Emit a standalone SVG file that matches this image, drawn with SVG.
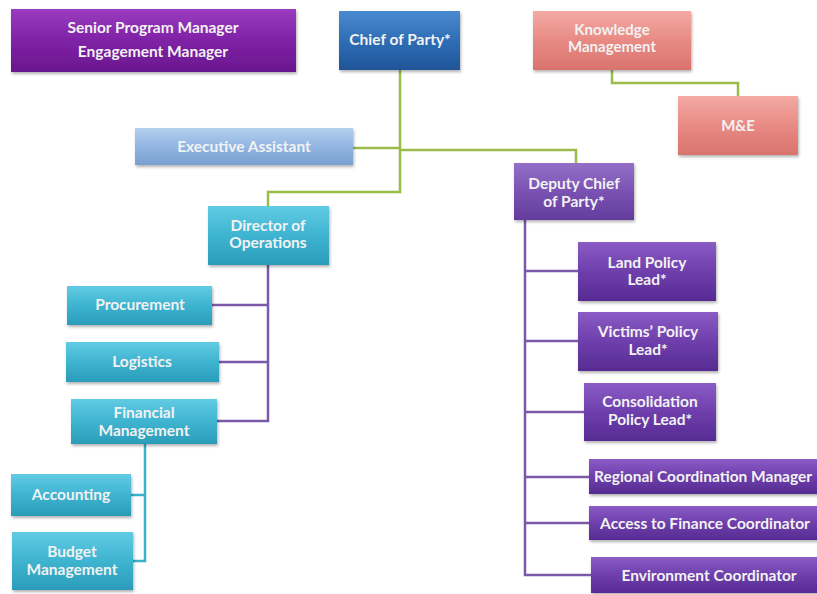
<svg xmlns="http://www.w3.org/2000/svg" width="817" height="594" viewBox="0 0 817 594">
<defs>
<linearGradient id="gSen" x1="0" y1="0" x2="0" y2="1"><stop offset="0" stop-color="#9a3cc0"/><stop offset="0.5" stop-color="#7f22a6"/><stop offset="1" stop-color="#6a168e"/></linearGradient>
<linearGradient id="gBlue" x1="0" y1="0" x2="0" y2="1"><stop offset="0" stop-color="#4a8ad0"/><stop offset="0.5" stop-color="#2f6db5"/><stop offset="1" stop-color="#1f5597"/></linearGradient>
<linearGradient id="gSal" x1="0" y1="0" x2="0" y2="1"><stop offset="0" stop-color="#f4aaa4"/><stop offset="0.5" stop-color="#e88a84"/><stop offset="1" stop-color="#d9736d"/></linearGradient>
<linearGradient id="gLb" x1="0" y1="0" x2="0" y2="1"><stop offset="0" stop-color="#b3cfee"/><stop offset="0.5" stop-color="#92b6e2"/><stop offset="1" stop-color="#789fd0"/></linearGradient>
<linearGradient id="gDep" x1="0" y1="0" x2="0" y2="1"><stop offset="0" stop-color="#9470c8"/><stop offset="0.5" stop-color="#7a52b2"/><stop offset="1" stop-color="#643c9c"/></linearGradient>
<linearGradient id="gTeal" x1="0" y1="0" x2="0" y2="1"><stop offset="0" stop-color="#62cbe4"/><stop offset="0.5" stop-color="#3eb4d0"/><stop offset="1" stop-color="#2a9cb9"/></linearGradient>
<linearGradient id="gPur" x1="0" y1="0" x2="0" y2="1"><stop offset="0" stop-color="#8a5cc4"/><stop offset="0.5" stop-color="#6e3fac"/><stop offset="1" stop-color="#572b92"/></linearGradient>
<filter id="sh" x="-10%" y="-10%" width="125%" height="135%"><feDropShadow dx="1" dy="2" stdDeviation="1.5" flood-color="#000" flood-opacity="0.3"/></filter>
</defs>
<style>
.box{filter:url(#sh);}
.t{font-family:Lato,"Open Sans","Liberation Sans",sans-serif;font-weight:bold;font-size:15.5px;fill:#f2f2f2;text-anchor:middle;}
.ts{font-size:15px;}
.g{fill:none;stroke:#9bbb4a;stroke-width:2.5;}
.p{fill:none;stroke:#7b5aaa;stroke-width:2.5;}
.c{fill:none;stroke:#3ab0cc;stroke-width:2.5;}
</style>
<rect width="817" height="594" fill="#ffffff"/>
<g id="connectors">
<path class="g" d="M400 70 V192 H268 V206"/>
<path class="g" d="M353 148 H400"/>
<path class="g" d="M400 150 H576 V163"/>
<path class="g" d="M612 70 V83 H738 V96"/>
<path class="p" d="M268 265 V421 H217"/>
<path class="p" d="M212 305 H268"/>
<path class="p" d="M219 362 H268"/>
<path class="p" d="M525 220 V575 H591"/>
<path class="p" d="M525 271 H578"/>
<path class="p" d="M525 341 H578"/>
<path class="p" d="M525 412 H584"/>
<path class="p" d="M525 477 H589"/>
<path class="p" d="M525 523 H589"/>
<path class="c" d="M145 444 V561 H133"/>
<path class="c" d="M131 495 H145"/>
</g>
<g id="senior"><rect class="box" x="11" y="9" width="285" height="63" fill="url(#gSen)"/><text class="t" x="153" y="33">Senior Program Manager</text><text class="t" x="153" y="57">Engagement Manager</text></g>
<g id="chief"><rect class="box" x="339" y="11" width="121" height="59" fill="url(#gBlue)"/><text class="t" x="400" y="45">Chief of Party*</text></g>
<g id="knowledge"><rect class="box" x="533" y="11" width="158" height="59" fill="url(#gSal)"/><text class="t ts" x="612" y="35">Knowledge</text><text class="t ts" x="612" y="52">Management</text></g>
<g id="me"><rect class="box" x="678" y="96" width="120" height="59" fill="url(#gSal)"/><text class="t ts" x="738" y="131">M&amp;E</text></g>
<g id="exec"><rect class="box" x="135" y="128" width="218" height="37" fill="url(#gLb)"/><text class="t" x="244" y="152">Executive Assistant</text></g>
<g id="deputy"><rect class="box" x="514" y="163" width="120" height="57" fill="url(#gDep)"/><text class="t" x="574" y="189">Deputy Chief</text><text class="t" x="574" y="207">of Party*</text></g>
<g id="director"><rect class="box" x="208" y="206" width="121" height="59" fill="url(#gTeal)"/><text class="t" x="268" y="231">Director of</text><text class="t" x="268" y="248">Operations</text></g>
<g id="procurement"><rect class="box" x="67" y="286" width="145" height="39" fill="url(#gTeal)"/><text class="t" x="140" y="310">Procurement</text></g>
<g id="logistics"><rect class="box" x="66" y="342" width="153" height="40" fill="url(#gTeal)"/><text class="t" x="142" y="367">Logistics</text></g>
<g id="financial"><rect class="box" x="71" y="399" width="146" height="45" fill="url(#gTeal)"/><text class="t" x="144" y="418">Financial</text><text class="t" x="144" y="436">Management</text></g>
<g id="accounting"><rect class="box" x="11" y="474" width="120" height="42" fill="url(#gTeal)"/><text class="t" x="71" y="500">Accounting</text></g>
<g id="budget"><rect class="box" x="12" y="532" width="121" height="58" fill="url(#gTeal)"/><text class="t" x="72" y="557">Budget</text><text class="t" x="72" y="575">Management</text></g>
<g id="land"><rect class="box" x="578" y="242" width="138" height="59" fill="url(#gPur)"/><text class="t" x="647" y="268">Land Policy</text><text class="t" x="647" y="285">Lead*</text></g>
<g id="victims"><rect class="box" x="578" y="312" width="140" height="59" fill="url(#gPur)"/><text class="t" x="648" y="337">Victims’ Policy</text><text class="t" x="648" y="355">Lead*</text></g>
<g id="consolidation"><rect class="box" x="584" y="383" width="132" height="58" fill="url(#gPur)"/><text class="t" x="650" y="407">Consolidation</text><text class="t" x="650" y="425">Policy Lead*</text></g>
<g id="regional"><rect class="box" x="589" y="459" width="240" height="35" fill="url(#gPur)"/><text class="t" x="594" y="482" style="text-anchor:start">Regional Coordination Manager</text></g>
<g id="access"><rect class="box" x="589" y="506" width="240" height="34" fill="url(#gPur)"/><text class="t" x="705" y="529">Access to Finance Coordinator</text></g>
<g id="environment"><rect class="box" x="591" y="557" width="240" height="36" fill="url(#gPur)"/><text class="t" x="709" y="581">Environment Coordinator</text></g>
</svg>
